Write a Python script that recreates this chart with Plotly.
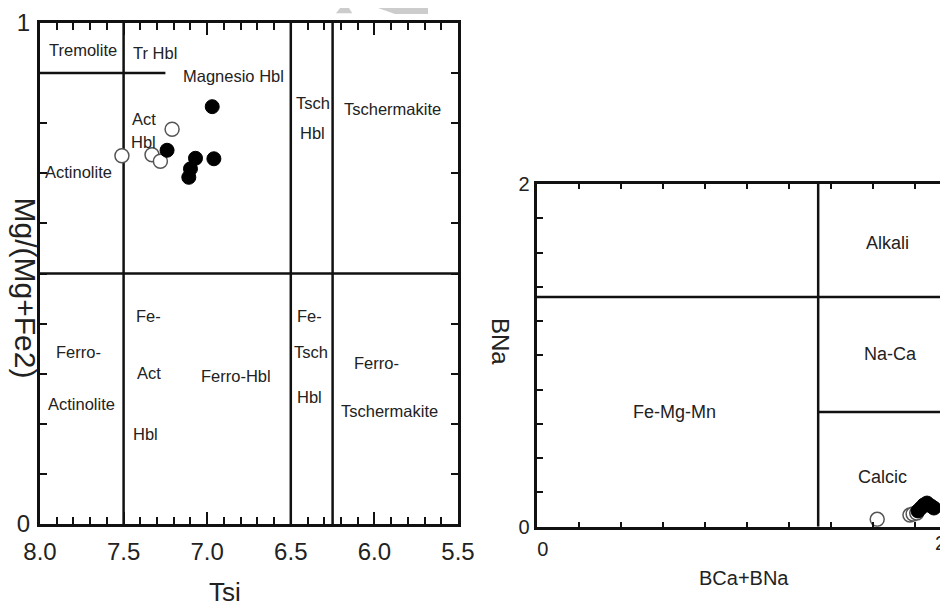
import plotly.graph_objects as go

# ---------------- data: left diagram (Tsi vs Mg/(Mg+Fe2)) ----------------
tsi_open = [7.51, 7.21, 7.33, 7.28]
mg_open = [0.735, 0.788, 0.737, 0.724]
tsi_filled = [6.97, 7.24, 7.07, 6.96, 7.10, 7.11]
mg_filled = [0.833, 0.746, 0.730, 0.729, 0.709, 0.692]

left_x_ticks = [8.0, 7.5, 7.0, 6.5, 6.0, 5.5]
left_vlines = [7.5, 6.5, 6.25]
left_hline = 0.5
tremolite_line_x = [8.0, 7.25]
tremolite_line_y = 0.9

left_labels = ["Tremolite", "Tr Hbl", "Magnesio Hbl", "Tsch", "Hbl", "Tschermakite",
               "Act", "Hbl", "Actinolite", "Fe-", "Ferro-", "Act", "Ferro-Hbl",
               "Actinolite", "Hbl", "Fe-", "Tsch", "Hbl", "Ferro-", "Tschermakite"]
left_label_x = [7.74, 7.31, 6.84, 6.37, 6.37, 5.89, 7.38, 7.38, 7.77, 7.35, 7.77, 7.35,
                6.83, 7.75, 7.37, 6.39, 6.38, 6.39, 5.99, 5.91]
left_label_y = [0.946, 0.940, 0.894, 0.840, 0.780, 0.828, 0.808, 0.762, 0.703, 0.415,
                0.343, 0.301, 0.295, 0.240, 0.180, 0.415, 0.343, 0.253, 0.321, 0.226]

# ---------------- data: right diagram (BCa+BNa vs BNa) ----------------
bcana_open = [1.621, 1.777, 1.792, 1.809]
bna_open = [0.043, 0.068, 0.074, 0.080]
bcana_filled = [1.815, 1.829, 1.843, 1.858, 1.877, 1.891]
bna_filled = [0.092, 0.109, 0.127, 0.138, 0.121, 0.109]

right_x_max = 1.958
right_vline = 1.34
right_hline_alkali = 1.34
right_hline_calcic = 0.67

right_labels = ["Alkali", "Na-Ca", "Fe-Mg-Mn", "Calcic"]
right_label_x = [1.671, 1.682, 0.658, 1.647]
right_label_y = [1.657, 1.006, 0.668, 0.292]

FONT = "Liberation Sans, Arial, sans-serif"
TXT = "#222222"
LINE = "#111111"

# the page body has an 8px margin; the figure fills the rest of the 948x609 window
W, H, OFF = 940, 601, 8


def px(x):
    return (x - OFF) / W


def py(y):
    return 1 - (y - OFF) / H


fig = go.Figure()

open_marker = dict(symbol="circle", size=14, color="white", line=dict(color="#555555", width=1.5))
filled_marker = dict(symbol="circle", size=14, color="black", line=dict(color="black", width=1))

fig.add_trace(go.Scatter(x=tsi_open, y=mg_open, mode="markers", marker=open_marker,
                         xaxis="x", yaxis="y", showlegend=False))
fig.add_trace(go.Scatter(x=tsi_filled, y=mg_filled, mode="markers", marker=filled_marker,
                         xaxis="x", yaxis="y", showlegend=False))
fig.add_trace(go.Scatter(x=bcana_open, y=bna_open, mode="markers", marker=open_marker,
                         xaxis="x2", yaxis="y2", showlegend=False))
fig.add_trace(go.Scatter(x=bcana_filled, y=bna_filled, mode="markers", marker=filled_marker,
                         xaxis="x2", yaxis="y2", showlegend=False))

LW = 2.5
shapes = []
for v in left_vlines:
    shapes.append(dict(type="line", xref="x", yref="y", x0=v, x1=v, y0=0, y1=1,
                       line=dict(color=LINE, width=LW), layer="below"))
shapes.append(dict(type="line", xref="x", yref="y", x0=8.0, x1=5.5, y0=left_hline, y1=left_hline,
                   line=dict(color=LINE, width=LW), layer="below"))
shapes.append(dict(type="line", xref="x", yref="y", x0=tremolite_line_x[0], x1=tremolite_line_x[1],
                   y0=tremolite_line_y, y1=tremolite_line_y, line=dict(color=LINE, width=LW), layer="below"))
shapes.append(dict(type="line", xref="x2", yref="y2", x0=right_vline, x1=right_vline, y0=0, y1=2,
                   line=dict(color=LINE, width=LW), layer="below"))
shapes.append(dict(type="line", xref="x2", yref="y2", x0=0, x1=2, y0=right_hline_alkali, y1=right_hline_alkali,
                   line=dict(color=LINE, width=LW), layer="below"))
shapes.append(dict(type="line", xref="x2", yref="y2", x0=right_vline, x1=2, y0=right_hline_calcic,
                   y1=right_hline_calcic, line=dict(color=LINE, width=LW), layer="below"))

# faint watermark at the top edge
tri = [(336, 13.3), (345, 1.7), (352.3, 13.3)]
arrow = [(378, 8), (428, 8), (428, 14), (395, 14)]
for poly in (tri, arrow):
    path = "M " + " L ".join(f"{px(a):.4f} {py(b):.4f}" for a, b in poly) + " Z"
    shapes.append(dict(type="path", xref="paper", yref="paper", path=path,
                       fillcolor="#cccccc", line=dict(width=0)))

annotations = []
for t, x, y in zip(left_labels, left_label_x, left_label_y):
    annotations.append(dict(text=t, x=x, y=y, xref="x", yref="y", showarrow=False,
                            xanchor="center", yanchor="middle",
                            font=dict(family=FONT, size=16.5, color=TXT)))
for t, x, y in zip(right_labels, right_label_x, right_label_y):
    annotations.append(dict(text=t, x=x, y=y, xref="x2", yref="y2", showarrow=False,
                            xanchor="center", yanchor="middle",
                            font=dict(family=FONT, size=18, color=TXT)))

# axis titles
annotations.append(dict(text="Mg/(Mg+Fe2)", xref="paper", yref="paper", x=px(25), y=py(287.5),
                        xanchor="center", yanchor="middle", textangle=90, showarrow=False,
                        font=dict(family=FONT, size=30, color=TXT)))
annotations.append(dict(text="Tsi", xref="paper", yref="paper", x=px(225), y=py(575),
                        xanchor="center", yanchor="top", showarrow=False,
                        font=dict(family=FONT, size=26, color=TXT)))
annotations.append(dict(text="BNa", xref="paper", yref="paper", x=px(500), y=py(341),
                        xanchor="center", yanchor="middle", textangle=90, showarrow=False,
                        font=dict(family=FONT, size=24, color=TXT)))
annotations.append(dict(text="BCa+BNa", xref="paper", yref="paper", x=px(744), y=py(578),
                        xanchor="center", yanchor="middle", showarrow=False,
                        font=dict(family=FONT, size=20, color=TXT)))
# "2" tick label at the right edge, where the diagram is cut
annotations.append(dict(text="2", xref="paper", yref="paper", x=1.0, y=py(543), xanchor="right",
                        yanchor="middle", showarrow=False,
                        font=dict(family=FONT, size=20, color=TXT)))

common_axis = dict(showgrid=False, zeroline=False, showline=True, linecolor=LINE, linewidth=3,
                   ticks="inside", tickcolor=LINE, tickwidth=1.5, automargin=False)

fig.update_layout(
    width=W, height=H, autosize=False,
    margin=dict(l=0, r=0, t=0, b=0),
    paper_bgcolor="white", plot_bgcolor="white",
    showlegend=False,
    shapes=shapes, annotations=annotations,
    xaxis=dict(domain=[px(40), px(458)], range=[8.0, 5.5], anchor="y",
               tickmode="array", tickvals=left_x_ticks, ticktext=[f"{v:.1f}" for v in left_x_ticks],
               ticklen=12, mirror="allticks", ticklabelstandoff=4,
               tickfont=dict(family=FONT, size=24, color=TXT),
               minor=dict(tickmode="linear", tick0=5.5, dtick=0.1, ticks="inside", ticklen=7,
                          tickcolor=LINE, tickwidth=1.5),
               **common_axis),
    yaxis=dict(domain=[py(524), py(23)], range=[0, 1], anchor="x",
               tickmode="array", tickvals=[0, 1], ticktext=["0", "1"],
               ticklen=0, mirror="allticks", ticklabelstandoff=2,
               tickfont=dict(family=FONT, size=24, color=TXT),
               minor=dict(tickmode="linear", tick0=0, dtick=0.1, ticks="inside", ticklen=7,
                          tickcolor=LINE, tickwidth=1.5),
               **common_axis),
    xaxis2=dict(domain=[px(536.7), 1.0], range=[0, right_x_max], anchor="y2",
                tickmode="array", tickvals=[0], ticktext=["0"],
                ticklen=0, mirror="allticks", ticklabelstandoff=2, ticklabelshift=6,
                tickfont=dict(family=FONT, size=20, color=TXT),
                minor=dict(tickmode="linear", tick0=0, dtick=0.2, ticks="inside", ticklen=5,
                           tickcolor=LINE, tickwidth=1.5),
                **common_axis),
    yaxis2=dict(domain=[py(526.7), py(184)], range=[0, 2], anchor="x2",
                tickmode="array", tickvals=[0, 2], ticktext=["0", "2"],
                ticklen=0, mirror=False, ticklabelstandoff=0,
                tickfont=dict(family=FONT, size=20, color=TXT),
                minor=dict(tickmode="linear", tick0=0, dtick=0.2, ticks="inside", ticklen=6,
                           tickcolor=LINE, tickwidth=1.5),
                **common_axis),
)

fig.write_html("out.html")
